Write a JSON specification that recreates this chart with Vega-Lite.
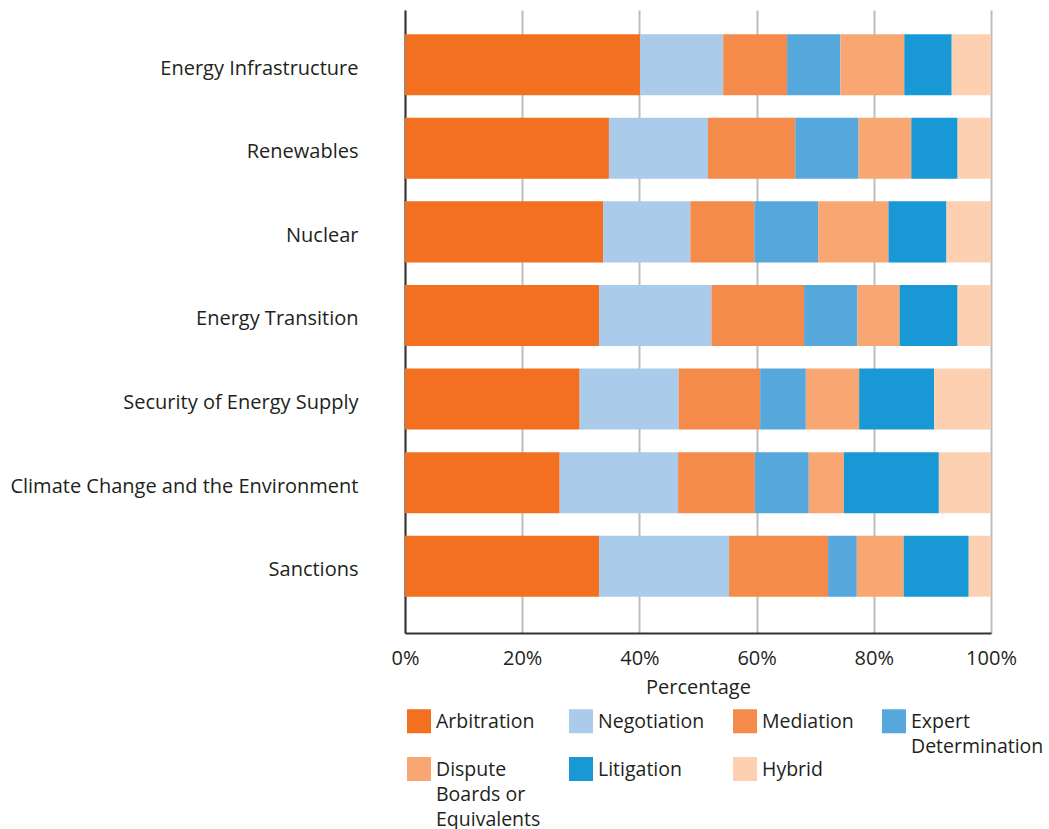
{
  "$schema": "https://vega.github.io/schema/vega-lite/v6.json",
  "autosize": {"type": "none"},
  "width": 586,
  "height": 623,
  "padding": {"left": 405, "top": 10, "right": 58, "bottom": 196},
  "background": "white",
  "config": {
    "font": "Open Sans",
    "view": {"stroke": null},
    "axis": {"labelFont": "Open Sans", "titleFont": "Open Sans", "labelColor": "#231f20", "titleColor": "#231f20"}
  },
  "data": {
    "values": [
      {"cat": "Energy Infrastructure", "method": "Arbitration", "value": 40.1},
      {"cat": "Energy Infrastructure", "method": "Negotiation", "value": 14.2},
      {"cat": "Energy Infrastructure", "method": "Mediation", "value": 10.9},
      {"cat": "Energy Infrastructure", "method": "Expert Determination", "value": 9.1},
      {"cat": "Energy Infrastructure", "method": "Dispute Boards or Equivalents", "value": 10.9},
      {"cat": "Energy Infrastructure", "method": "Litigation", "value": 8.1},
      {"cat": "Energy Infrastructure", "method": "Hybrid", "value": 6.7},
      {"cat": "Renewables", "method": "Arbitration", "value": 34.8},
      {"cat": "Renewables", "method": "Negotiation", "value": 16.9},
      {"cat": "Renewables", "method": "Mediation", "value": 14.9},
      {"cat": "Renewables", "method": "Expert Determination", "value": 10.8},
      {"cat": "Renewables", "method": "Dispute Boards or Equivalents", "value": 9.0},
      {"cat": "Renewables", "method": "Litigation", "value": 7.9},
      {"cat": "Renewables", "method": "Hybrid", "value": 5.7},
      {"cat": "Nuclear", "method": "Arbitration", "value": 33.8},
      {"cat": "Nuclear", "method": "Negotiation", "value": 14.9},
      {"cat": "Nuclear", "method": "Mediation", "value": 10.9},
      {"cat": "Nuclear", "method": "Expert Determination", "value": 10.9},
      {"cat": "Nuclear", "method": "Dispute Boards or Equivalents", "value": 12.0},
      {"cat": "Nuclear", "method": "Litigation", "value": 9.9},
      {"cat": "Nuclear", "method": "Hybrid", "value": 7.6},
      {"cat": "Energy Transition", "method": "Arbitration", "value": 33.1},
      {"cat": "Energy Transition", "method": "Negotiation", "value": 19.2},
      {"cat": "Energy Transition", "method": "Mediation", "value": 15.8},
      {"cat": "Energy Transition", "method": "Expert Determination", "value": 9.1},
      {"cat": "Energy Transition", "method": "Dispute Boards or Equivalents", "value": 7.2},
      {"cat": "Energy Transition", "method": "Litigation", "value": 9.9},
      {"cat": "Energy Transition", "method": "Hybrid", "value": 5.7},
      {"cat": "Security of Energy Supply", "method": "Arbitration", "value": 29.8},
      {"cat": "Security of Energy Supply", "method": "Negotiation", "value": 16.9},
      {"cat": "Security of Energy Supply", "method": "Mediation", "value": 13.9},
      {"cat": "Security of Energy Supply", "method": "Expert Determination", "value": 7.8},
      {"cat": "Security of Energy Supply", "method": "Dispute Boards or Equivalents", "value": 9.1},
      {"cat": "Security of Energy Supply", "method": "Litigation", "value": 12.8},
      {"cat": "Security of Energy Supply", "method": "Hybrid", "value": 9.7},
      {"cat": "Climate Change and the Environment", "method": "Arbitration", "value": 26.4},
      {"cat": "Climate Change and the Environment", "method": "Negotiation", "value": 20.2},
      {"cat": "Climate Change and the Environment", "method": "Mediation", "value": 13.1},
      {"cat": "Climate Change and the Environment", "method": "Expert Determination", "value": 9.2},
      {"cat": "Climate Change and the Environment", "method": "Dispute Boards or Equivalents", "value": 6.0},
      {"cat": "Climate Change and the Environment", "method": "Litigation", "value": 16.2},
      {"cat": "Climate Change and the Environment", "method": "Hybrid", "value": 8.9},
      {"cat": "Sanctions", "method": "Arbitration", "value": 33.1},
      {"cat": "Sanctions", "method": "Negotiation", "value": 22.2},
      {"cat": "Sanctions", "method": "Mediation", "value": 16.9},
      {"cat": "Sanctions", "method": "Expert Determination", "value": 4.9},
      {"cat": "Sanctions", "method": "Dispute Boards or Equivalents", "value": 8.0},
      {"cat": "Sanctions", "method": "Litigation", "value": 11.1},
      {"cat": "Sanctions", "method": "Hybrid", "value": 3.8}
    ]
  },
  "transform": [
    {"calculate": "indexof(['Arbitration', 'Negotiation', 'Mediation', 'Expert Determination', 'Dispute Boards or Equivalents', 'Litigation', 'Hybrid'], datum.method)", "as": "ord"}
  ],
  "mark": {"type": "bar"},
  "encoding": {
    "y": {
      "field": "cat",
      "type": "nominal",
      "sort": null,
      "scale": {"paddingInner": 0.27, "paddingOuter": 0.361, "align": 0.4},
      "axis": {
        "title": null,
        "ticks": false,
        "labelFontSize": 20,
        "labelPadding": 47,
        "labelOffset": 4,
        "labelLimit": 400,
        "domainColor": "#333333",
        "domainWidth": 2,
        "grid": false
      }
    },
    "x": {
      "field": "value",
      "type": "quantitative",
      "stack": "normalize",
      "scale": {"domain": [0, 1], "nice": false},
      "axis": {
        "title": "Percentage",
        "titleFontSize": 20,
        "titleFontWeight": "normal",
        "titlePadding": 9,
        "format": ".0%",
        "values": [0, 0.2, 0.4, 0.6, 0.8, 1],
        "ticks": false,
        "labelFlush": false,
        "labelFontSize": 20,
        "labelPadding": 15,
        "domainColor": "#333333",
        "domainWidth": 2,
        "grid": true,
        "gridColor": "#bdbdbd",
        "gridWidth": 2
      }
    },
    "order": {"field": "ord", "type": "quantitative"},
    "color": {
      "field": "method",
      "type": "nominal",
      "sort": ["Arbitration", "Negotiation", "Mediation", "Expert Determination", "Dispute Boards or Equivalents", "Litigation", "Hybrid"],
      "scale": {
        "domain": ["Arbitration", "Negotiation", "Mediation", "Expert Determination", "Dispute Boards or Equivalents", "Litigation", "Hybrid"],
        "range": ["#f37021", "#aacbea", "#f58b4a", "#56a7dc", "#f8a772", "#1898d5", "#fdd0b1"]
      },
      "legend": {
        "title": null,
        "orient": "none",
        "legendX": 2,
        "legendY": 699,
        "direction": "horizontal",
        "columns": 4,
        "gridAlign": "each",
        "columnPadding": 28,
        "rowPadding": 0,
        "symbolType": "square",
        "symbolSize": 576,
        "symbolStrokeWidth": 0,
        "labelFontSize": 19.5,
        "labelColor": "#231f20",
        "labelOffset": 5,
        "labelLimit": 300,
        "labelBaseline": "top",
        "labelExpr": "datum.label == 'Expert Determination' ? ['Expert', 'Determination'] : datum.label == 'Dispute Boards or Equivalents' ? ['Dispute', 'Boards or', 'Equivalents'] : indexof(['Arbitration', 'Negotiation', 'Mediation'], datum.label) >= 0 ? [datum.label, ' '] : [datum.label, ' ', ' ']",
        "encode": {
          "labels": {"update": {"dy": {"value": -8}, "lineHeight": {"value": 25}}}
        }
      }
    }
  }
}
